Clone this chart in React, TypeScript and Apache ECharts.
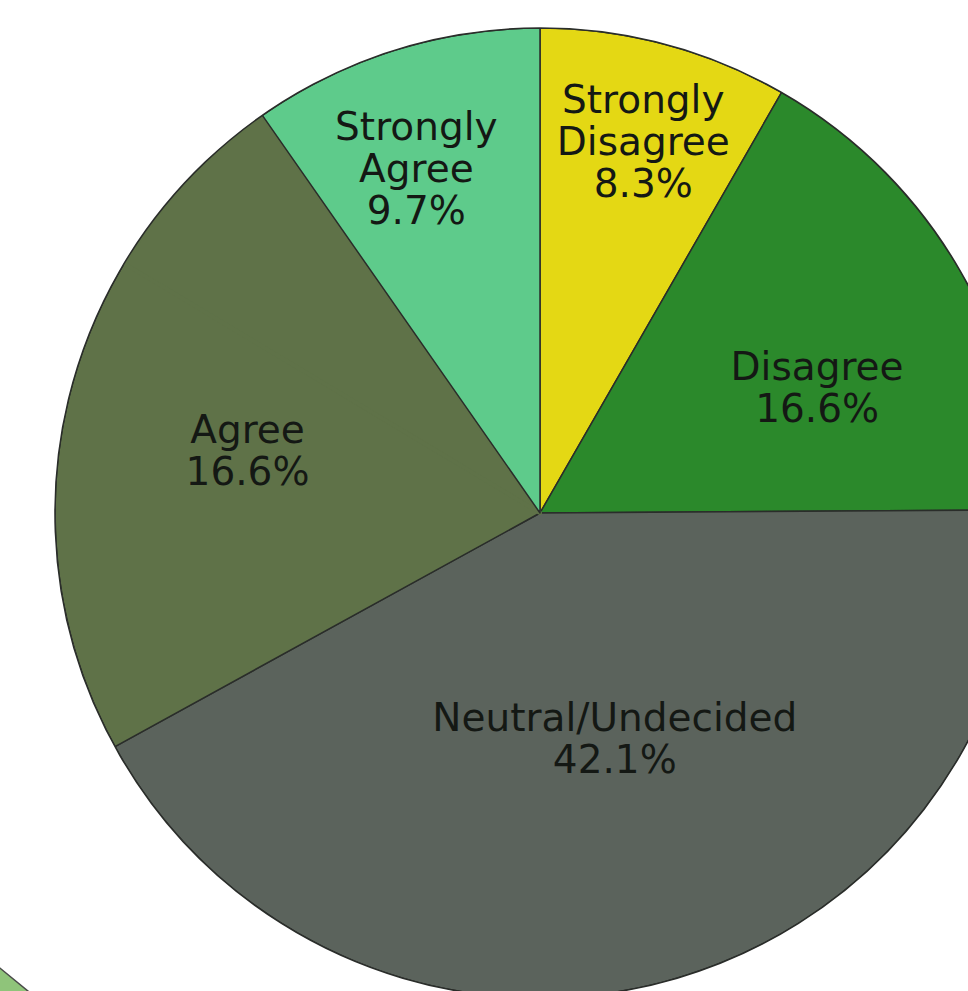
import React, { useEffect, useRef } from "react";
import * as echarts from "echarts";

// Survey response categories, clockwise from 12 o'clock
const categories = [
  "Strongly Disagree",
  "Disagree",
  "Neutral/Undecided",
  "Agree",
  "Strongly Agree",
];
// Stated share of responses (%)
const shares = [8.3, 16.6, 42.1, 16.6, 9.7];
// Remaining share with no stated category; shaded together with "Agree"
const unstatedShare = 6.7;

const sliceColors = ["#e4d814", "#2b892b", "#5b635c", "#5f7248", "#5ecb8b"];
// Nudges from the default inside-label anchor (px)
const labelOffsets: [number, number][] = [
  [40, -134],
  [65, -2],
  [13, -12],
  [-47, -58],
  [-50, -110],
];

const CENTER: [number, number] = [540, 513];
const RADIUS = 485;
const EDGE = "#2a2d2a";

export default function App() {
  const ref = useRef<HTMLDivElement>(null);

  useEffect(() => {
    if (!ref.current) return;
    const chart = echarts.init(ref.current, undefined, { renderer: "svg" });

    const data: any[] = categories.map((name, i) => ({
      name,
      value: shares[i],
      itemStyle: { color: sliceColors[i] },
      label: { offset: labelOffsets[i] },
    }));
    // unstated remainder sits right after "Agree", drawn without a dividing edge
    data.splice(4, 0, {
      name: "Unstated",
      value: unstatedShare,
      itemStyle: {
        color: sliceColors[3],
        borderColor: sliceColors[3],
        borderWidth: 4,
      },
      label: { show: false },
    });

    chart.setOption({
      animation: false,
      backgroundColor: "#ffffff",
      graphic: [
        {
          type: "polygon",
          silent: true,
          shape: {
            points: [
              [-5, 964],
              [34, 996],
              [-5, 996],
            ],
          },
          style: { fill: "#8fc47a", stroke: "#4a4a4a", lineWidth: 1.5 },
          z: 1,
        },
      ],
      series: [
        {
          type: "pie",
          center: CENTER,
          radius: RADIUS,
          startAngle: 90,
          clockwise: true,
          silent: true,
          avoidLabelOverlap: false,
          itemStyle: { borderColor: EDGE, borderWidth: 1.5 },
          label: {
            show: true,
            position: "inside",
            formatter: (p: any) =>
              `${String(p.name).replace(" ", "\n")}\n${Number(p.value).toFixed(1)}%`,
            fontFamily: "DejaVu Sans",
            fontSize: 39,
            lineHeight: 42,
            color: "#141814",
            align: "center",
            textBorderWidth: 0,
          },
          labelLine: { show: false },
          data,
        },
        {
          // white band just outside the rim, hiding any stroke spill
          type: "pie",
          center: CENTER,
          radius: [RADIUS, RADIUS + 4],
          silent: true,
          z: 3,
          label: { show: false },
          labelLine: { show: false },
          itemStyle: { color: "#ffffff", borderWidth: 0 },
          data: [{ name: "band", value: 1 }],
        },
        {
          // outer rim, drawn once around the whole pie
          type: "pie",
          center: CENTER,
          radius: RADIUS,
          silent: true,
          z: 4,
          label: { show: false },
          labelLine: { show: false },
          itemStyle: {
            color: "rgba(0,0,0,0)",
            borderColor: EDGE,
            borderWidth: 1.5,
          },
          data: [{ name: "rim", value: 1 }],
        },
      ],
    });

    return () => chart.dispose();
  }, []);

  return (
    <div
      ref={ref}
      style={{ position: "fixed", left: 0, top: 0, width: "968px", height: "991px" }}
    />
  );
}
